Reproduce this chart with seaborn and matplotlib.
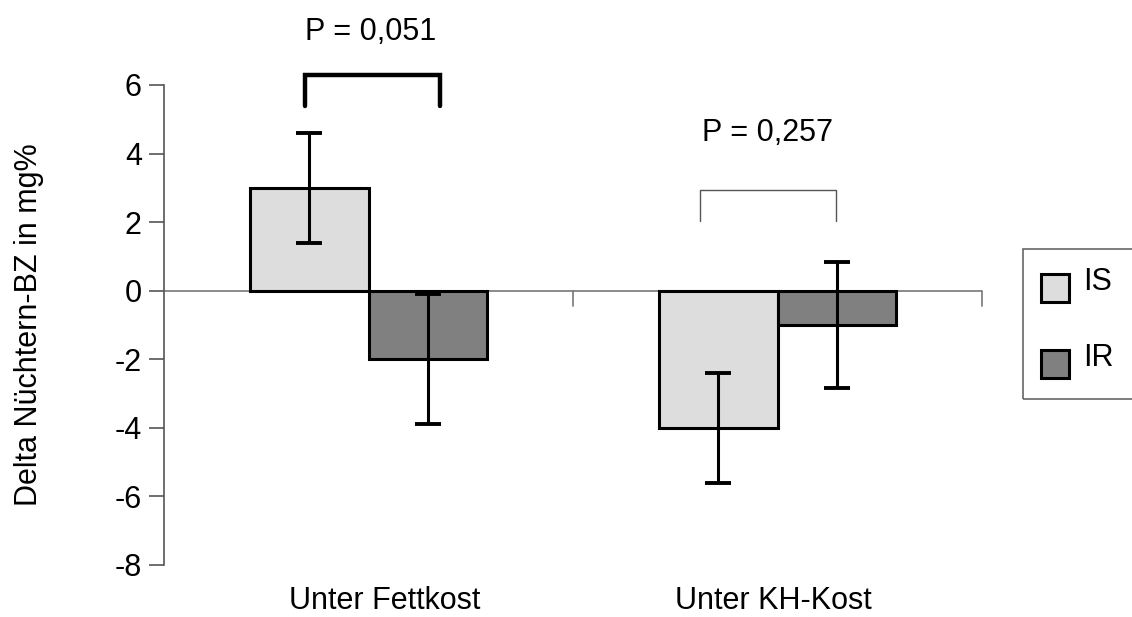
import matplotlib
matplotlib.use("Agg")
import matplotlib.pyplot as plt
import seaborn as sns
import pandas as pd
from matplotlib.patches import Rectangle

# Mean change in fasting blood glucose (mg%) and its spread per diet and group
categories = ["Unter Fettkost", "Unter KH-Kost"]
groups = ["IS", "IR"]
is_mean = [3.0, -4.0]
ir_mean = [-2.0, -1.0]
is_err = [1.6, 1.6]
ir_err = [1.9, 1.85]
p_labels = ["P = 0,051", "P = 0,257"]
y_ticks = [-8, -6, -4, -2, 0, 2, 4, 6]

df = pd.DataFrame({
    "Kost": categories * 2,
    "Gruppe": [groups[0]] * 2 + [groups[1]] * 2,
    "Delta": is_mean + ir_mean,
})
errors = {groups[0]: is_err, groups[1]: ir_err}

sns.set_theme(style="white")
plt.rcParams["font.family"] = ["Liberation Sans", "DejaVu Sans"]
plt.rcParams["axes.unicode_minus"] = False
plt.rcParams["text.color"] = "black"
plt.rcParams["axes.labelcolor"] = "black"
plt.rcParams["xtick.labelcolor"] = "black"
plt.rcParams["ytick.labelcolor"] = "black"

W, H = 1132, 617
fig = plt.figure(figsize=(W / 100, H / 100), dpi=100)
ax = fig.add_axes([164 / W, 1 - 565 / H, 818 / W, 480 / H])

palette = {groups[0]: "#dddddd", groups[1]: "#808080"}
sns.barplot(data=df, x="Kost", y="Delta", hue="Gruppe", order=categories,
            hue_order=groups, palette=palette, width=0.58, gap=0,
            edgecolor="black", linewidth=2.2, saturation=1, ax=ax,
            errorbar=None, legend=False, zorder=3)

# error bars at the centre of each bar
for grp, cont in zip(groups, ax.containers):
    xs = [b.get_x() + b.get_width() / 2 for b in cont]
    ys = [b.get_height() for b in cont]
    ax.errorbar(xs, ys, yerr=errors[grp], fmt="none", ecolor="black",
                elinewidth=2.2, capsize=9.7, capthick=2.8, zorder=4)

ax.set_xlim(-0.5, 1.5)
ax.set_ylim(-8, 6)
ax.set_yticks(y_ticks)
ax.set_yticklabels([str(t) for t in y_ticks], fontsize=22)
ax.tick_params(axis="y", direction="out", length=11, width=1.2,
               color="#555555", labelcolor="black", pad=5, left=True)
ax.set_xticks([0.04, 0.99])
ax.set_xticklabels(categories)
ax.tick_params(axis="x", length=0, pad=15, labelsize=22, labelcolor="black")
ax.set_xlabel("")
ax.set_ylabel("Delta Nüchtern-BZ in mg%", fontsize=22, color="black")
ax.yaxis.set_label_coords(-0.147, 0.5)

for side in ["top", "right", "bottom"]:
    ax.spines[side].set_visible(False)
ax.spines["left"].set_color("#555555")
ax.spines["left"].set_linewidth(1.2)

# zero line acting as category axis, with ticks between categories
ax.axhline(0, color="#777777", lw=1.2, zorder=2)
for xb in [0.5, 1.5]:
    ax.plot([xb, xb], [0, -0.44], color="#777777", lw=1.2, zorder=2,
            clip_on=False)

# significance brackets
ax.plot([-0.156, -0.156, 0.176, 0.176], [5.39, 6.28, 6.28, 5.39],
        color="black", lw=3.2, clip_on=False, solid_joinstyle="miter")
ax.plot([0.811, 0.811, 1.142, 1.142], [2.04, 2.94, 2.94, 2.04],
        color="#555555", lw=1.0, clip_on=False)
ax.text(0.005, 7.54, p_labels[0], fontsize=22, ha="center", va="center",
        color="black")
ax.text(0.976, 4.59, p_labels[1], fontsize=22, ha="center", va="center",
        color="black")

# legend: open-ended frame with square swatches
fig.patches.append(Rectangle((1023 / W, 1 - 399 / H), 0.2, 150 / H,
                             transform=fig.transFigure, fill=False,
                             edgecolor="#666666", lw=1.2))
for i, grp in enumerate(groups):
    top = 274 + 76 * i
    fig.patches.append(Rectangle((1041 / W, 1 - (top + 28) / H), 28 / W, 28 / H,
                                 transform=fig.transFigure,
                                 facecolor=palette[grp], edgecolor="black",
                                 lw=2.2))
    fig.text(1083 / W, 1 - (top + 16) / H, grp, fontsize=22, color="black",
             ha="left", va="baseline")

fig.savefig("out.png", dpi=100, facecolor="white")
